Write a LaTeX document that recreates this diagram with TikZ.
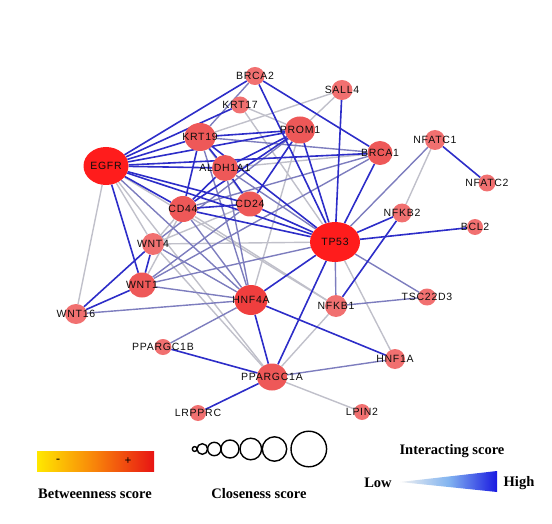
\documentclass[tikz,border=0pt]{standalone}
\usepackage{fontspec}
\setmainfont{Liberation Serif}
\newfontfamily\genefont[LetterSpace=7]{Liberation Sans}
\usetikzlibrary{shapes.geometric,backgrounds}
\definecolor{hubred}{RGB}{255,28,28}
\definecolor{midred}{RGB}{240,62,62}
\definecolor{genered}{RGB}{238,88,88}
\definecolor{lowred}{RGB}{241,112,112}
\definecolor{strongblue}{RGB}{45,45,200}
\definecolor{midblue}{RGB}{125,125,190}
\definecolor{weakgray}{RGB}{192,192,202}
\newcommand\gname[1]{\makebox[0pt]{#1}}
\tikzset{
  gene/.style={ellipse,inner sep=0pt,text=black!95,
    font=\genefont\fontsize{10.5}{11}\selectfont},
  sz/.style 2 args={minimum width=#1pt,minimum height=#2pt},
  hub/.style={gene,fill=hubred},
  big/.style={gene,fill=genered},
  small/.style={gene,fill=lowred},
  strong/.style={draw=strongblue,line width=1.6pt},
  medium/.style={draw=midblue,line width=1.4pt},
  weak/.style={draw=weakgray,line width=1.4pt},
  legtext/.style={font=\bfseries\fontsize{14.5}{15}\selectfont},
}

\begin{document}
\begin{tikzpicture}[x=1pt,y=-1pt]
  \useasboundingbox (0,0) rectangle (552,524);
  % genes
  \node[hub,sz={45}{38}] (egfr) at (106,166) {\gname{EGFR}};
  \node[hub,sz={50}{40}] (tp53) at (335,242) {\gname{TP53}};
  \node[hub,fill=midred,sz={33}{30}] (hnf4a) at (251,300) {\gname{HNF4A}};
  \node[big,sz={31}{28}] (krt19) at (200,137) {\gname{KRT19}};
  \node[big,sz={30}{27}] (prom1) at (300,130) {\gname{PROM1}};
  \node[big,sz={26}{26}] (aldh1a1) at (225,168) {\gname{ALDH1A1}};
  \node[big,sz={28}{26}] (cd44) at (183,209) {\gname{CD44}};
  \node[big,sz={27}{25}] (cd24) at (250,204) {\gname{CD24}};
  \node[big,sz={25}{24}] (brca1) at (380,153) {\gname{BRCA1}};
  \node[big,sz={27}{25}] (wnt1) at (142,285) {\gname{WNT1}};
  \node[big,sz={30}{27}] (ppargc1a) at (272,377) {\gname{PPARGC1A}};
  \node[small,sz={19}{18}] (brca2) at (255,76) {\gname{BRCA2}};
  \node[small,sz={18}{17}] (krt17) at (240,105) {\gname{KRT17}};
  \node[small,sz={21}{20}] (sall4) at (342,90) {\gname{SALL4}};
  \node[small,sz={20}{20}] (nfatc1) at (435,140) {\gname{NFATC1}};
  \node[small,sz={17}{17}] (nfatc2) at (487,183) {\gname{NFATC2}};
  \node[small,sz={19}{19}] (nfkb2) at (402,213) {\gname{NFKB2}};
  \node[small,sz={16}{16}] (bcl2) at (475,227) {\gname{BCL2}};
  \node[small,sz={22}{22}] (wnt4) at (153,244) {\gname{WNT4}};
  \node[small,sz={22}{22}] (nfkb1) at (336,306) {\gname{NFKB1}};
  \node[small,sz={18}{17}] (tsc22d3) at (427,297) {\gname{TSC22D3}};
  \node[small,sz={22}{20}] (wnt16) at (76,314) {\gname{WNT16}};
  \node[small,sz={17}{16}] (ppargc1b) at (163,347) {\gname{PPARGC1B}};
  \node[small,sz={20}{20}] (hnf1a) at (395,359) {\gname{HNF1A}};
  \node[small,sz={16}{16}] (lrpprc) at (198,413) {\gname{LRPPRC}};
  \node[small,sz={16}{16}] (lpin2) at (362,412) {\gname{LPIN2}};
  % interactions
  \begin{scope}[on background layer]
    \foreach \a/\b in {egfr/wnt16,egfr/wnt4,egfr/nfkb1,egfr/ppargc1a,
      krt17/tp53,krt17/prom1,sall4/krt19,sall4/prom1,prom1/hnf4a,
      nfatc1/nfkb2,cd44/wnt4,cd44/wnt1,cd24/wnt4,cd44/nfkb1,wnt4/tp53,
      tp53/hnf1a,nfkb1/ppargc1a,ppargc1a/lpin2,aldh1a1/brca1,
      wnt4/ppargc1a,krt19/cd24}
      \draw[weak] (\a) -- (\b);
    \foreach \a/\b in {brca2/krt19,egfr/hnf4a,krt19/brca1,krt19/hnf4a,
      aldh1a1/tp53,aldh1a1/hnf4a,cd44/hnf4a,cd44/brca1,cd24/wnt1,
      tp53/wnt1,tp53/tsc22d3,tp53/nfkb1,nfatc1/tp53,wnt4/hnf4a,
      wnt1/hnf4a,wnt16/hnf4a,hnf4a/ppargc1b,nfkb1/tsc22d3,
      ppargc1a/hnf1a,prom1/wnt4,brca1/wnt1}
      \draw[medium] (\a) -- (\b);
    \foreach \a/\b in {egfr/brca2,egfr/krt17,egfr/krt19,egfr/prom1,
      egfr/aldh1a1,egfr/brca1,egfr/cd44,egfr/cd24,egfr/tp53,egfr/wnt1,
      brca2/brca1,brca2/tp53,sall4/tp53,krt19/prom1,krt19/aldh1a1,
      krt19/cd44,krt19/tp53,prom1/aldh1a1,prom1/cd44,prom1/cd24,
      prom1/tp53,aldh1a1/cd44,aldh1a1/cd24,cd44/cd24,cd44/tp53,
      cd24/tp53,brca1/tp53,nfatc1/nfatc2,tp53/nfkb2,tp53/bcl2,
      tp53/hnf4a,tp53/ppargc1a,nfkb2/nfkb1,wnt4/wnt1,wnt4/wnt16,
      wnt1/wnt16,hnf4a/ppargc1a,hnf4a/hnf1a,ppargc1a/ppargc1b,
      ppargc1a/lrpprc}
      \draw[strong] (\a) -- (\b);
  \end{scope}
  % legends
  \shade[left color={rgb,255:red,255;green,232;blue,0},
    right color={rgb,255:red,232;green,20;blue,20},
    middle color={rgb,255:red,248;green,130;blue,10}]
    (37,451) rectangle (154,471);
  \node[font=\bfseries\large] (minus) at (58,461) {-};
  \node[font=\bfseries\large] (plus) at (128,461) {+};
  \node[legtext] (between) at (95,494) {Betweenness score};
  \foreach \x/\r in {194.7/2.4,202.3/5.3,214.3/6.7,230/9,250.8/10.8,
    274.5/12.2,308.8/17.8}
    \draw[line width=1.4pt] (\x,449) circle (\r);
  \node[legtext] (close) at (259,494) {Closeness score};
  \node[legtext] (inter) at (452,451) {Interacting score};
  \shade[left color=gray!12,right color={rgb,255:red,25;green,25;blue,225},
    middle color={rgb,255:red,130;green,180;blue,240}]
    (400,482) -- (497,471) -- (497,492) -- cycle;
  \node[legtext] (low) at (378,483) {Low};
  \node[legtext] (high) at (519,483) {High};
\end{tikzpicture}
\end{document}
